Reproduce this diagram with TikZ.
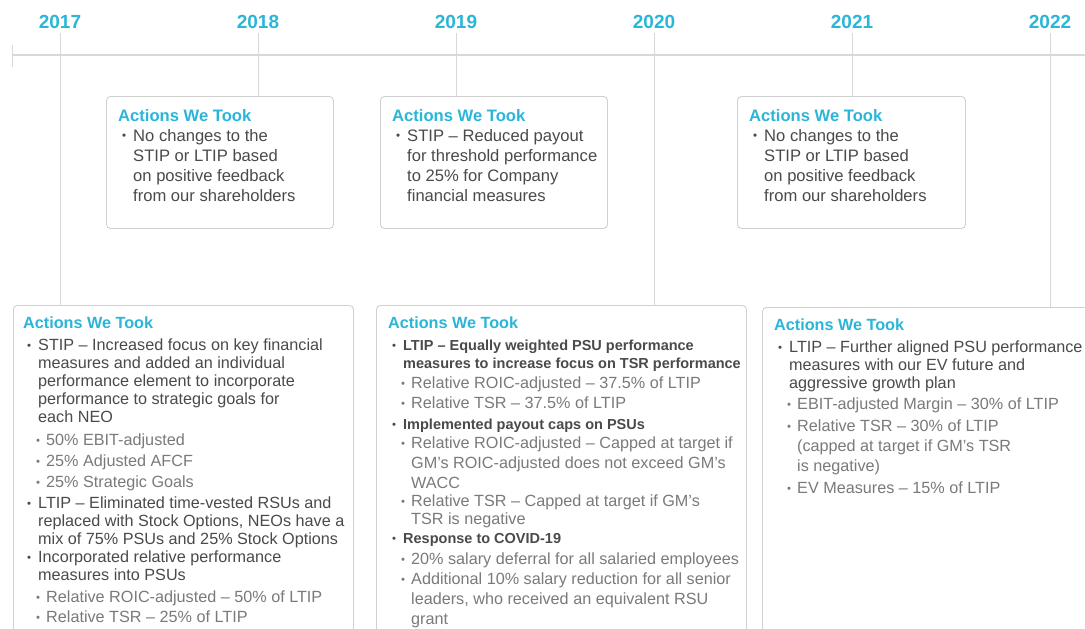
\documentclass[tikz,border=0pt]{standalone}
\usepackage{fontspec}
\setmainfont{Liberation Sans}
\usetikzlibrary{positioning}
\definecolor{yrcyan}{HTML}{2BB5D8}
\definecolor{txt}{HTML}{4A4A4A}
\definecolor{subtxt}{HTML}{7A7A7A}
\definecolor{rule}{HTML}{D8D8D8}
\definecolor{frame}{HTML}{D0D0D0}
\newcommand{\acthead}{{\bfseries\color{yrcyan}Actions We Took}}
\newcommand{\dotb}{\raisebox{1.3pt}{\scalebox{0.7}{\textbullet}}}
\newcommand{\itm}[1]{\hspace*{4pt}\makebox[11pt][l]{\dotb}#1}
\newcommand{\itmc}[1]{\hspace*{15pt}#1}
\newcommand{\sitm}[1]{{\color{subtxt}\hspace*{13pt}\makebox[10pt][l]{\dotb}#1}}
\newcommand{\sitmc}[1]{{\color{subtxt}\hspace*{23pt}#1}}
\newcommand{\bfb}{\bfseries\fontsize{14.5}{18}\selectfont}
\tikzset{
  yr/.style={font=\bfseries\fontsize{19}{22}\selectfont,text=yrcyan,inner sep=4pt},
  tline/.style={draw=rule,line width=1.6pt},
  vline/.style={draw=rule,line width=1pt},
  actbox/.style={draw=frame,line width=0.9pt,rounded corners=4pt,anchor=north west,inner sep=0pt,fill=white},
  acttxt/.style={anchor=north west,inner sep=0pt,align=left,text=txt},
  uptxt/.style={acttxt,font=\fontsize{16.6}{20}\selectfont},
  lowtxt/.style={acttxt,font=\fontsize{16.2}{18}\selectfont},
}
\begin{document}
\begin{tikzpicture}[x=1pt,y=-1pt]
\useasboundingbox (0,0) rectangle (1085,629);
% timeline
\coordinate (t0) at (12,55);
\coordinate (t1) at (1090,55);
\draw[tline] (t0) -- (t1);
\draw[vline] ([yshift=10pt]t0) -- ([yshift=-12pt]t0);
% years
\node[yr] (y17) at (60,22) {2017};
\node[yr] (y18) at (258,22) {2018};
\node[yr] (y19) at (456,22) {2019};
\node[yr] (y20) at (654,22) {2020};
\node[yr] (y21) at (852,22) {2021};
\node[yr] (y22) at (1050,22) {2022};
% boxes
\node[actbox,minimum width=227pt,minimum height=132pt] (b18) at (106,96) {};
\node[actbox,minimum width=227pt,minimum height=132pt] (b19) at (380,96) {};
\node[actbox,minimum width=228pt,minimum height=132pt] (b21) at (737,96) {};
\node[actbox,minimum width=340pt,minimum height=360pt] (b17) at (13,305) {};
\node[actbox,minimum width=370pt,minimum height=360pt] (b20) at (376,305) {};
\node[actbox,minimum width=340pt,minimum height=360pt] (b22) at (762,307) {};
% connectors
\draw[vline] (y17.south) -- (y17.south |- b17.north);
\draw[vline] (y18.south) -- (y18.south |- b18.north);
\draw[vline] (y19.south) -- (y19.south |- b19.north);
\draw[vline] (y20.south) -- (y20.south |- b20.north);
\draw[vline] (y21.south) -- (y21.south |- b21.north);
\draw[vline] (y22.south) -- (y22.south |- b22.north);
% texts
\node[uptxt,below right=13pt and 12pt of b18.north west] (t18) {\acthead\\
\itm{No changes to the}\\
\itmc{STIP or LTIP based}\\
\itmc{on positive feedback}\\
\itmc{from our shareholders}};
\node[uptxt,below right=13pt and 12pt of b19.north west] (t19) {\acthead\\
\itm{STIP – Reduced payout}\\
\itmc{for threshold performance}\\
\itmc{to 25\% for Company}\\
\itmc{financial measures}};
\node[uptxt,below right=13pt and 12pt of b21.north west] (t21) {\acthead\\
\itm{No changes to the}\\
\itmc{STIP or LTIP based}\\
\itmc{on positive feedback}\\
\itmc{from our shareholders}};
\node[lowtxt,below right=12pt and 10pt of b17.north west] (t17) {\acthead\\[4pt]
\itm{STIP – Increased focus on key financial}\\
\itmc{measures and added an individual}\\
\itmc{performance element to incorporate}\\
\itmc{performance to strategic goals for}\\
\itmc{each NEO}\\[5pt]
\sitm{50\% EBIT-adjusted}\\[3pt]
\sitm{25\% Adjusted AFCF}\\[3pt]
\sitm{25\% Strategic Goals}\\[3pt]
\itm{LTIP – Eliminated time-vested RSUs and}\\
\itmc{replaced with Stock Options, NEOs have a}\\
\itmc{mix of 75\% PSUs and 25\% Stock Options}\\
\itm{Incorporated relative performance}\\
\itmc{measures into PSUs}\\[4pt]
\sitm{Relative ROIC-adjusted – 50\% of LTIP}\\[2pt]
\sitm{Relative TSR – 25\% of LTIP}};
\node[lowtxt,below right=12pt and 12pt of b20.north west] (t20) {\acthead\\[4pt]
\itm{\bfb LTIP – Equally weighted PSU performance}\\
\itmc{\bfb measures to increase focus on TSR performance}\\[2pt]
\sitm{Relative ROIC-adjusted – 37.5\% of LTIP}\\[2pt]
\sitm{Relative TSR – 37.5\% of LTIP}\\[3pt]
\itm{\bfb Implemented payout caps on PSUs}\\[1pt]
\sitm{Relative ROIC-adjusted – Capped at target if}\\[2pt]
\sitmc{GM’s ROIC-adjusted does not exceed GM’s}\\[2pt]
\sitmc{WACC}\\
\sitm{Relative TSR – Capped at target if GM’s}\\
\sitmc{TSR is negative}\\[1pt]
\itm{\bfb Response to COVID-19}\\[3pt]
\sitm{20\% salary deferral for all salaried employees}\\[2pt]
\sitm{Additional 10\% salary reduction for all senior}\\[2pt]
\sitmc{leaders, who received an equivalent RSU}\\[2pt]
\sitmc{grant}};
\node[lowtxt,below right=12pt and 12pt of b22.north west] (t22) {\acthead\\[4pt]
\itm{LTIP – Further aligned PSU performance}\\
\itmc{measures with our EV future and}\\
\itmc{aggressive growth plan}\\[3pt]
\sitm{EBIT-adjusted Margin – 30\% of LTIP}\\[4pt]
\sitm{Relative TSR – 30\% of LTIP}\\[2pt]
\sitmc{(capped at target if GM’s TSR}\\[2pt]
\sitmc{is negative)}\\[4pt]
\sitm{EV Measures – 15\% of LTIP}};
\end{tikzpicture}
\end{document}
